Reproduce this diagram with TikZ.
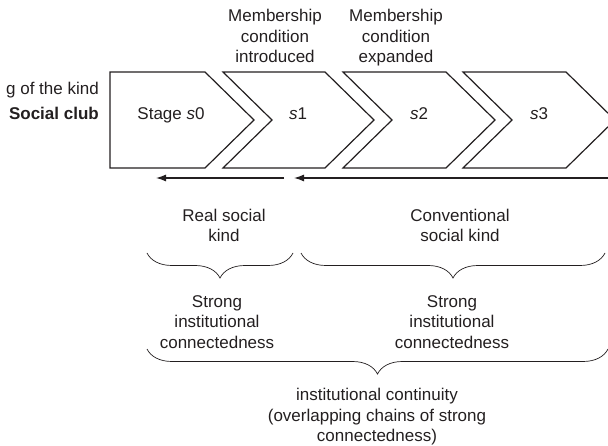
\documentclass[tikz,border=0pt]{standalone}
\usepackage{fontspec}
\setmainfont{Liberation Sans}
\usetikzlibrary{arrows.meta,decorations.pathreplacing}
\definecolor{ink}{RGB}{35,31,32}
\begin{document}
\begin{tikzpicture}[x=1pt,y=-1pt,
  every node/.style={font=\fontsize{17}{20.5}\selectfont, text=ink, inner sep=0pt, align=center},
  stagebox/.style={draw=ink, line width=1.2pt, line join=miter},
  flowarrow/.style={draw=ink, line width=1.3pt, -{Latex[length=10pt,width=7pt]}},
  bracebelow/.style={draw=ink, line width=0.7pt, decorate, decoration={brace,mirror,amplitude=25pt,aspect=0.5}}]
\useasboundingbox (0,0) rectangle (608,446);
\clip (0,0) rectangle (608,446);
% stages
\draw[stagebox] (110,72) -- (205,72) -- (254,120) -- (205,168) -- (110,168) -- cycle;
\draw[stagebox] (223,72) -- (325,72) -- (374,120) -- (325,168) -- (223,168) -- (272,120) -- cycle;
\draw[stagebox] (343,72) -- (446,72) -- (495,120) -- (446,168) -- (343,168) -- (392,120) -- cycle;
\draw[stagebox] (463,72) -- (566,72) -- (615,120) -- (566,168) -- (463,168) -- (512,120) -- cycle;
\node[anchor=base] (st0) at (171,119.5) {Stage \textit{s}0};
\node[anchor=base] (st1) at (298,119.5) {\textit{s}1};
\node[anchor=base] (st2) at (419,119.5) {\textit{s}2};
\node[anchor=base] (st3) at (539,119.5) {\textit{s}3};
% left labels
\node[anchor=base east] (kind) at (99,95) {g of the kind};
\node[anchor=base east] (club) at (99,119.5) {\bfseries Social club};
% top labels
\node (intro) at (275,36.3) {Membership\\condition\\introduced};
\node (expand) at (396,38.1) {Membership\\condition\\expanded};
% arrows
\coordinate (a1s) at (284,178);
\coordinate (a1e) at (156,178);
\coordinate (a2s) at (612,178);
\coordinate (a2e) at (294,178);
\draw[flowarrow] (a1s) -- (a1e);
\draw[flowarrow] (a2s) -- (a2e);
% kind labels
\node (real) at (224,225.2) {Real social\\kind};
\node (conv) at (460,225.2) {Conventional\\social kind};
% braces
\coordinate (b1l) at (147,253);
\coordinate (b1r) at (293,253);
\coordinate (b2l) at (301,253);
\coordinate (b2r) at (605,253);
\draw[bracebelow] (b1l) -- (b1r);
\draw[bracebelow] (b2l) -- (b2r);
\node (strong1) at (217,321.8) {Strong\\institutional\\connectedness};
\node (strong2) at (452,321.8) {Strong\\institutional\\connectedness};
\coordinate (b3l) at (147,349);
\coordinate (b3r) at (608,349);
\draw[bracebelow] (b3l) -- (b3r);
\node (cont) at (377,416.6) {institutional continuity\\(overlapping chains of strong\\connectedness)};
\end{tikzpicture}
\end{document}
